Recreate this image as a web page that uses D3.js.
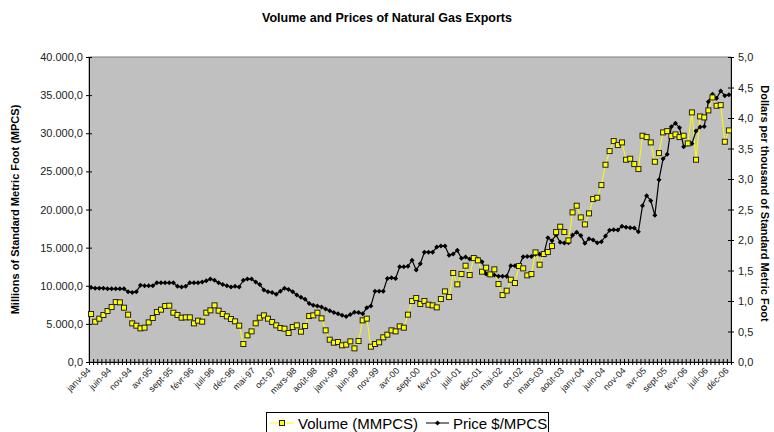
<!DOCTYPE html>
<html>
<head>
<meta charset="utf-8">
<script src="https://cdn.jsdelivr.net/npm/d3@7"></script>
<style>
  body { margin: 0; background: #fff; }
  text { font-family: Arial, "Liberation Sans", sans-serif; }
</style>
</head>
<body>
<div id="viz"></div>
<script>
const width = 774;
const height = 432;
const margin = {top: 57, right: 43, bottom: 70, left: 89};

// Monthly categories, janv-94 .. déc-06
const monthNames = ['janv', 'févr', 'mars', 'avr', 'mai', 'juin', 'juil', 'août', 'sept', 'oct', 'nov', 'déc'];
const months = [];
for (let y = 1994; y <= 2006; y++) {
  monthNames.forEach(m => months.push(m + '-' + String(y).slice(2)));
}

// Volume (MMPCS)
const volume = [
  6293, 5288, 5681, 6162, 6686, 7211, 7866, 7822, 7123, 6205, 5069, 4763,
  4414, 4501, 5200, 5768, 6555, 6861, 7342, 7385, 6467, 6162, 5812, 5856,
  5856, 5069, 5419, 5288, 6467, 6774, 7429, 6730, 6293, 5987, 5637, 5331,
  4763, 2360, 3496, 4020, 5069, 5812, 6118, 5681, 5244, 4807, 4457, 4370,
  3802, 4589, 4807, 3976, 4720, 6031, 6118, 6467, 5725, 4152, 2928, 2534,
  2622, 2185, 2272, 2709, 1792, 2753, 5463, 5681, 2010, 2360, 2578, 3234,
  3583, 4152, 4020, 4676, 4501, 6205, 7997, 8390, 7604, 7997, 7516, 7429,
  7167, 8259, 9264, 8522, 11668, 10182, 11537, 12629, 11406, 13634, 13328, 11843,
  12367, 11493, 12149, 10226, 8784, 9352, 10794, 10357, 12586, 12280, 11362, 11537,
  14377, 12760, 14159, 14421, 15208, 17043, 17742, 17043, 15950, 19621, 20495, 18966,
  18048, 19490, 21369, 21544, 23205, 25870, 27662, 28973, 28449, 28798, 26526, 26657,
  25958, 25302, 29672, 29498, 28798, 26264, 27400, 30110, 30284, 29629, 29847, 29498,
  29672, 28667, 32732, 26526, 32207, 32076, 32994, 34698, 33605, 33693, 28886, 30372
];

// Price $/MPCS
const price = [
  1.22, 1.21, 1.21, 1.21, 1.20, 1.20, 1.20, 1.20, 1.20, 1.15, 1.14, 1.15,
  1.26, 1.25, 1.25, 1.25, 1.30, 1.30, 1.30, 1.30, 1.30, 1.24, 1.23, 1.24,
  1.30, 1.30, 1.30, 1.31, 1.33, 1.36, 1.34, 1.30, 1.27, 1.25, 1.23, 1.24,
  1.23, 1.34, 1.36, 1.36, 1.31, 1.27, 1.18, 1.15, 1.14, 1.11, 1.16, 1.21,
  1.19, 1.15, 1.10, 1.06, 1.03, 0.96, 0.93, 0.92, 0.90, 0.87, 0.84, 0.81,
  0.79, 0.765, 0.745, 0.78, 0.815, 0.81, 0.79, 0.89, 0.92, 1.16, 1.16, 1.16,
  1.37, 1.38, 1.37, 1.56, 1.56, 1.57, 1.67, 1.51, 1.61, 1.80, 1.80, 1.80,
  1.885, 1.90, 1.90, 1.75, 1.77, 1.83, 1.70, 1.72, 1.69, 1.70, 1.69, 1.645,
  1.443, 1.443, 1.426, 1.404, 1.404, 1.404, 1.579, 1.579, 1.579, 1.727, 1.73, 1.73,
  1.765, 1.765, 1.765, 2.038, 1.989, 2.082, 1.962, 1.95, 1.955, 2.08, 2.126, 2.075,
  1.945, 2.022, 2.00, 1.955, 1.97, 2.066, 2.158, 2.17, 2.165, 2.224, 2.21, 2.20,
  2.197, 2.137, 2.563, 2.727, 2.645, 2.404, 2.989, 3.333, 3.404, 3.858, 3.913, 3.841,
  3.530, 3.568, 3.58, 3.787, 3.852, 3.86, 4.268, 4.388, 4.322, 4.443, 4.366, 4.38
];

const volumeTicks = d3.range(0, 40001, 5000);
const priceTicks = d3.range(0, 5.01, 0.5);

const locale = d3.formatLocale({decimal: ',', thousands: '.', grouping: [3], currency: ['', '']});
const fmt = locale.format(',.1f');

const svg = d3.select('#viz')
  .append('svg')
    .attr('width', width)
    .attr('height', height);

const x = d3.scaleBand()
  .domain(d3.range(months.length))
  .range([margin.left, width - margin.right]);
const xb = d3.scaleLinear()
  .domain([0, months.length])
  .range([margin.left, width - margin.right]);
const cx = i => x(i) + x.bandwidth() / 2;

const yV = d3.scaleLinear().domain([0, 40000]).range([height - margin.bottom, margin.top]);
const yP = d3.scaleLinear().domain([0, 5]).range([height - margin.bottom, margin.top]);

// Plot area
svg.append('rect')
  .attr('x', margin.left)
  .attr('y', margin.top)
  .attr('width', width - margin.left - margin.right)
  .attr('height', height - margin.top - margin.bottom)
  .attr('fill', '#c0c0c0')
  .attr('stroke', '#808080')
  .attr('stroke-width', 1);

// Title
svg.append('text')
  .attr('x', 387)
  .attr('y', 22)
  .attr('text-anchor', 'middle')
  .style('font-size', '12.5px')
  .style('font-weight', 'bold')
  .text('Volume and Prices of Natural Gas Exports');

// Left axis
const leftAxis = svg.append('g')
  .attr('transform', `translate(${margin.left},0)`)
  .call(d3.axisLeft(yV).tickValues(volumeTicks).tickFormat(fmt).tickSizeInner(3).tickSizeOuter(0).tickPadding(3));
leftAxis.selectAll('.tick line').attr('x2', -3).attr('x1', 3).attr('stroke', '#000');
leftAxis.select('.domain').attr('stroke', '#000');
leftAxis.selectAll('text').style('font-size', '11px').attr('fill', '#222');

// Right axis
const rightAxis = svg.append('g')
  .attr('transform', `translate(${width - margin.right},0)`)
  .call(d3.axisRight(yP).tickValues(priceTicks).tickFormat(fmt).tickSizeInner(3).tickSizeOuter(0).tickPadding(4));
rightAxis.selectAll('.tick line').attr('x1', -3).attr('x2', 3).attr('stroke', '#000');
rightAxis.select('.domain').attr('stroke', '#000');
rightAxis.selectAll('text').style('font-size', '11px').attr('fill', '#222');

// Bottom axis ticks at category boundaries
const bottomAxis = svg.append('g')
  .attr('transform', `translate(0,${height - margin.bottom})`)
  .call(d3.axisBottom(xb).tickValues(d3.range(months.length + 1)).tickFormat('').tickSizeInner(3).tickSizeOuter(0));
bottomAxis.selectAll('.tick line').attr('y1', -3).attr('y2', 3).attr('stroke', '#000');
bottomAxis.select('.domain').attr('stroke', '#000');

// Month labels, every 5 months
svg.append('g')
  .selectAll('text')
  .data(d3.range(0, months.length, 5))
  .join('text')
    .attr('transform', i => `translate(${cx(i) - 2},${height - margin.bottom + 7}) rotate(-45)`)
    .attr('text-anchor', 'end')
    .attr('dy', '0.35em')
    .attr('fill', '#222')
    .style('font-size', '9px')
    .text(i => months[i]);

// Axis titles
svg.append('text')
  .attr('transform', `translate(19,${(margin.top + height - margin.bottom) / 2}) rotate(-90)`)
  .attr('text-anchor', 'middle')
  .style('font-size', '11px')
  .style('font-weight', 'bold')
  .text('Millions of Standard Metric Foot (MPCS)');

svg.append('text')
  .attr('transform', `translate(761,${(margin.top + height - margin.bottom) / 2 - 6}) rotate(90)`)
  .attr('text-anchor', 'middle')
  .style('font-size', '11px')
  .style('font-weight', 'bold')
  .text('Dollars per thousand of Standard Metric Foot');

// Volume series
const volLine = d3.line().x((d, i) => cx(i)).y(d => yV(d));
svg.append('path')
  .attr('d', volLine(volume))
  .attr('fill', 'none')
  .attr('stroke', '#ffff00')
  .attr('stroke-width', 1);

// Price series
const priceLine = d3.line().x((d, i) => cx(i)).y(d => yP(d));
svg.append('path')
  .attr('d', priceLine(price))
  .attr('fill', 'none')
  .attr('stroke', '#000')
  .attr('stroke-width', 1.2);

const diamond = d3.symbol().type(d3.symbolDiamond2).size(16);
svg.append('g')
  .selectAll('path')
  .data(price)
  .join('path')
    .attr('transform', (d, i) => `translate(${cx(i)},${yP(d)})`)
    .attr('d', diamond)
    .attr('fill', '#000');

svg.append('g')
  .selectAll('rect')
  .data(volume)
  .join('rect')
    .attr('x', (d, i) => cx(i) - 2.5)
    .attr('y', d => yV(d) - 2.5)
    .attr('width', 5)
    .attr('height', 5)
    .attr('fill', '#ffff00')
    .attr('stroke', '#222')
    .attr('stroke-width', 1);

// Legend
const legend = svg.append('g');
legend.append('rect')
  .attr('x', 266.5)
  .attr('y', 412.5)
  .attr('width', 282)
  .attr('height', 30)
  .attr('fill', '#fff')
  .attr('stroke', '#000');
legend.append('line')
  .attr('x1', 270).attr('x2', 294).attr('y1', 423).attr('y2', 423)
  .attr('stroke', '#ffff00');
legend.append('rect')
  .attr('x', 279.5).attr('y', 420.5).attr('width', 5).attr('height', 5)
  .attr('fill', '#ffff00').attr('stroke', '#222');
legend.append('text')
  .attr('x', 298).attr('y', 428.5)
  .style('font-size', '15px')
  .text('Volume (MMPCS)');
legend.append('line')
  .attr('x1', 426).attr('x2', 449).attr('y1', 423).attr('y2', 423)
  .attr('stroke', '#000');
legend.append('path')
  .attr('transform', 'translate(437.5,423)')
  .attr('d', diamond)
  .attr('fill', '#000');
legend.append('text')
  .attr('x', 453).attr('y', 428.5)
  .style('font-size', '15px')
  .text('Price $/MPCS');
</script>
</body>
</html>
